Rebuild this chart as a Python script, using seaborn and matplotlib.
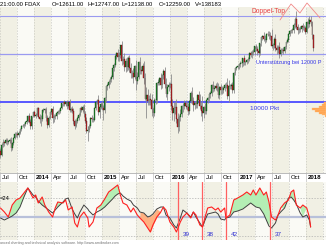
import numpy as np
import pandas as pd
import matplotlib
matplotlib.use("Agg")
import matplotlib.pyplot as plt
import matplotlib.dates as mdates
import seaborn as sns

# ---------------- data (weekly FDAX candles, Jul 2013 - Feb 2018) ----------------
first_open = 7960
closes = [
    # 2013
    7806, 8212, 8331, 8300, 8403, 8337, 8356, 8416, 8103, 8276, 8509, 8675, 8661, 8622,
    8725, 8869, 9001, 9009, 9079, 9168, 9225, 9405, 9172, 9006, 9400, 9589, 9435,
    # 2014
    9473, 9742, 9392, 9306, 9289, 9662, 9656, 9692, 9350, 9056, 9343, 9588, 9695, 9315,
    9409, 9401, 9556, 9581, 9630, 9769, 9943, 9987, 9913, 9987, 9815, 10009, 9666, 9720,
    9644, 9210, 9010, 9225, 9339, 9470, 9747, 9651, 9799, 9490, 9195, 8788, 8850, 8988,
    9326, 9291, 9252, 9732, 9980, 10087, 9594, 9787, 9923, 9764,
    # 2015
    9648, 10167, 10649, 10694, 10846, 10963, 11050, 11401, 11550, 11901, 12039, 11868,
    11967, 12375, 11689, 11811, 11454, 11709, 11447, 11815, 11413, 11197, 11197, 11040,
    11492, 10890, 11059, 11673, 11347, 11308, 11490, 10985, 10124, 10298, 10038, 10123,
    10104, 9688, 9553, 10096, 10104, 10795, 10850, 10988, 10708, 11119, 11293, 10752,
    10340, 10608, 10727, 10743,
    # 2016
    9849, 9545, 9764, 9798, 9286, 8967, 9388, 9513, 9824, 9831, 9950, 9851, 9794, 9622,
    10051, 10373, 10039, 9870, 9952, 9916, 10287, 10103, 9834, 9631, 9558, 9776, 9629,
    10066, 10147, 10337, 10367, 10713, 10544, 10588, 10684, 10573, 10276, 10627, 10511,
    10490, 10580, 10711, 10696, 10259, 10668, 10664, 10700, 10513, 11203, 11404, 11450,
    11481,
    # 2017
    11599, 11629, 11630, 11814, 11651, 11666, 11757, 11804, 12027, 11963, 12095, 12064,
    12313, 12225, 12109, 12049, 12438, 12717, 12770, 12638, 12602, 12823, 12815, 12753,
    12733, 12325, 12388, 12632, 12240, 12163, 12297, 12014, 12165, 12168, 12142, 12304,
    12519, 12592, 12828, 12956, 12992, 12991, 13217, 13478, 13127, 12994, 13060, 13058,
    13153, 13104, 13072, 12918,
    # 2018
    13320, 13245, 13434, 13340, 12785, 12259,
]
upper_wick = [
    120, 90, 110, 60, 80, 100, 70, 90, 140, 60, 50, 80, 90, 120, 60, 40, 50, 90, 60, 50,
    70, 40, 120, 110, 30, 40, 90,
    80, 50, 70, 110, 150, 40, 80, 70, 90, 120, 60, 50, 70, 120, 80, 90, 60, 70, 60, 40,
    30, 60, 90, 40, 110, 40, 100, 80, 120, 110, 100, 60, 80, 60, 40, 90, 70, 110, 130, 180,
    140, 90, 60, 120, 90, 50, 40, 30, 190, 90, 60, 130,
    100, 40, 60, 110, 80, 60, 70, 30, 60, 80, 60, 150, 110, 15, 170, 110, 210, 120, 170, 90,
    160, 220, 140, 200, 60, 260, 180, 50, 210, 170, 140, 200, 230, 320, 250, 160, 240, 220,
    110, 60, 160, 40, 110, 70, 200, 60, 90, 150, 240, 150, 120, 110,
    420, 280, 240, 190, 340, 260, 70, 190, 60, 110, 120, 130, 140, 180, 50, 90, 250, 160,
    90, 120, 40, 170, 230, 180, 639, 60, 170, 40, 80, 60, 80, 30, 180, 120, 90, 130, 200,
    60, 140, 140, 90, 80, 110, 310, 250, 90, 100, 120, 40, 60, 50, 40,
    40, 70, 80, 40, 160, 60, 50, 90, 40, 90, 80, 130, 40, 110, 110, 130, 30, 30, 40, 150,
    170, 60, 140, 140, 150, 300, 80, 60, 220, 150, 70, 220, 100, 100, 120, 40, 40, 60, 30,
    40, 50, 80, 60, 47, 300, 120, 80, 100, 70, 120, 90, 80,
    60, 200, 160, 162, 30, 40,
]
lower_wick = [
    150, 60, 90, 120, 70, 110, 80, 60, 130, 90, 60, 50, 100, 140, 80, 60, 70, 50, 90, 60,
    80, 70, 60, 150, 120, 40, 60,
    90, 70, 60, 200, 270, 60, 90, 100, 150, 130, 90, 60, 80, 180, 150, 100, 110, 60, 80, 70,
    60, 90, 100, 60, 120, 70, 80, 90, 120, 110, 120, 60, 90, 80, 60, 80, 70, 110, 90, 88,
    433, 100, 70, 110, 80, 60, 70, 80, 150, 280, 60, 90,
    380, 120, 150, 160, 130, 90, 110, 80, 100, 80, 90, 160, 150, 120, 160, 120, 150, 200,
    170, 110, 160, 200, 180, 240, 100, 380, 160, 120, 190, 140, 150, 240, 44, 786, 180, 170,
    220, 261, 228, 130, 190, 160, 100, 150, 180, 120, 150, 180, 140, 240, 130, 140,
    170, 310, 330, 280, 150, 268, 170, 180, 140, 220, 110, 160, 120, 170, 120, 110, 130, 240,
    160, 180, 150, 110, 140, 200, 344, 220, 110, 130, 90, 110, 150, 110, 130, 90, 100, 120,
    110, 140, 170, 150, 120, 140, 110, 150, 250, 110, 120, 140, 120, 90, 70, 60,
    100, 130, 150, 140, 110, 110, 80, 120, 90, 90, 110, 120, 110, 100, 140, 180, 110, 90,
    120, 100, 140, 90, 80, 130, 150, 70, 160, 130, 110, 150, 130, 160, 110, 110, 140, 110,
    90, 80, 100, 90, 80, 120, 110, 130, 100, 150, 140, 130, 160, 110, 110, 90,
    40, 150, 110, 180, 140, 121,
]

# oscillator panel (week index, red line, black line)
ind_week = [0, 3, 6, 9, 12, 15, 18, 21, 25, 27, 29, 32, 34, 37, 40, 42, 44, 48, 50, 52,
            55, 57, 59, 61, 64, 67, 68, 71, 74, 77, 80, 83, 86, 88, 90, 92, 94, 97, 100,
            102, 105, 107, 110, 113, 115, 117, 120, 123, 125, 127, 130, 133, 135, 138, 140,
            143, 146, 148, 150, 153, 155, 157, 159, 162, 165, 167, 169, 172, 173, 176, 179,
            182, 186, 189, 192, 194, 196, 199, 202, 204, 206, 208, 211, 213, 215, 218, 221,
            223, 225, 227, 230, 232, 235, 237, 238]
ind_red = [32, 28, 23, 35, 40, 42, 47, 52, 42, 45, 37, 43, 35, 28, 23, 32, 38, 37, 40, 30,
           33, 17, 13, 23, 28, 22, 13, 18, 32, 35, 41, 48, 51, 53, 55, 45, 37, 35, 28, 32,
           25, 22, 18, 12, 8, 15, 23, 28, 33, 30, 18, 13, 8, 18, 23, 27, 22, 28, 25, 15,
           13, 23, 32, 33, 30, 32, 28, 32, 22, 25, 40, 42, 45, 48, 45, 50, 45, 52, 45, 48,
           38, 23, 20, 25, 32, 37, 40, 48, 50, 35, 32, 35, 32, 23, 13]
ind_black = [22, 20, 22, 24, 27, 33, 43, 52, 45, 43, 39, 35, 33, 30, 27, 30, 33, 38, 41, 42,
             31, 26, 22, 28, 35, 31, 29, 25, 28, 30, 33, 37, 41, 44, 46, 47, 44, 41, 39, 35,
             32, 28, 27, 23, 24, 26, 31, 33, 33, 25, 22, 15, 12, 22, 30, 27, 23, 28, 23, 17,
             13, 20, 26, 27, 28, 26, 21, 20, 22, 23, 28, 29, 31, 34, 37, 35, 33, 32, 26, 20,
             14, 12, 17, 25, 28, 32, 42, 43, 40, 36, 27, 23, 25, 20, 13]
ind_ref_level = 23
oversold_zone = (107, 120)   # week range of the orange (oversold) fill
cycle_weeks = [136, 155, 173, 207]
cycle_labels = ["39", "38", "42", "37"]

support_levels = [13583, 12000, 10000]
header = ["21:00.00 FDAX", "O=12611.00", "H=12747.00", "L=12138.00", "C=12259.00", "V=138183"]
profile_prices = [9960, 9880, 9800, 9720, 9640, 9560, 9480, 9400]
profile_days = [10, 22, 40, 75, 60, 38, 20, 8]
doppel_days = [1504, 1563, 1611, 1649, 1719]
doppel_prices = [13417, 14083, 13708, 14125, 13500]

# ---------------- figure ----------------
sns.set_theme(style="white")
plt.rcParams["font.family"] = ["Liberation Sans", "DejaVu Sans"]

W, H = 326, 245
fig = plt.figure(figsize=(W / 100, H / 100), dpi=100)
fig.patch.set_facecolor("white")


def fax(x0, y0, x1, y1):
    return fig.add_axes([x0 / W, 1 - y1 / H, (x1 - x0) / W, (y1 - y0) / H])


ax = fax(0, 7, 326, 173)
axd = fax(0, 173, 326, 182)
axb = fax(0, 182, 326, 240)

start = pd.Timestamp("2013-07-01")
weeks = pd.date_range(start, periods=len(closes), freq="W-MON")
xw = mdates.date2num(weeks) + 2.5
close = np.array(closes, float)
open_ = np.concatenate([[first_open], close[:-1]])
high = np.maximum(open_, close) + np.array(upper_wick)
low = np.minimum(open_, close) - np.array(lower_wick)
df = pd.DataFrame({"x": xw, "open": open_, "close": close, "high": high, "low": low})

x0 = mdates.date2num(start)
x1 = x0 + 1751
quarters = pd.date_range("2013-07-01", "2018-04-01", freq="QS")
qx = mdates.date2num(quarters)

for a in (ax, axb):
    a.set_xlim(x0, x1)
    for i, q in enumerate(qx):
        a.axvspan(q, q + 91.3, color="#f1f0e4" if i % 2 == 0 else "#fafaf5", lw=0, zorder=0)
        a.axvline(q, color="#c8c8c0", lw=0.5, ls=(0, (2, 2)), zorder=0.5)
    for s in a.spines.values():
        s.set_visible(False)
    a.set_xticks([])
    a.set_yticks([])

ax.set_ylim(7042, 13958)

# support lines
for lvl, col, lw in zip(support_levels, ["#9a9af0", "#9a9af0", "#4c4cff"], [0.8, 0.9, 1.3]):
    ax.axhline(lvl, color=col, lw=lw, zorder=1)

# candles
ax.vlines(df.x, df.low, df.high, color="#8c8c8c", lw=0.6, zorder=2)
up = df.close >= df.open
ax.bar(df.x[up], (df.close - df.open)[up], bottom=df.open[up], width=4.0,
       color="#1f8a2a", edgecolor="#0d3d10", linewidth=0.25, zorder=3)
ax.bar(df.x[~up], (df.close - df.open)[~up], bottom=df.open[~up], width=4.0,
       color="#c8262a", edgecolor="#4a0c0c", linewidth=0.25, zorder=3)

# annotations
ax.text(x0 + 256 * 5.371, 11660, "Unterstützung bei 12000 P", color="#3838e8",
        fontsize=4.0, va="center", ha="left")
ax.text(x0 + 250 * 5.371, 9750, "10000 Pkt", color="#3838e8", fontsize=4.6,
        va="center", ha="left")
ax.text(x0 + 252 * 5.371, 13750, "Doppel-Top", color="#e84040", fontsize=4.8,
        va="center", ha="left")
ax.plot(x0 + np.array(doppel_days), doppel_prices, color="#f08888", lw=0.6,
        clip_on=False, zorder=4)
ax.barh(profile_prices, [-d for d in profile_days], left=x1, height=80,
        color="#ffa048", edgecolor="#ffc080", linewidth=0.3, zorder=2)

# header
for txt, px in zip(header, [0, 52, 87, 122, 159, 195]):
    fig.text(px / W, 1 - 4 / H, txt, fontsize=4.2, va="center", ha="left", color="black")

# date band
axd.set_xlim(x0, x1)
axd.set_ylim(0, 1)
axd.set_facecolor("white")
axd.set_xticks([])
axd.set_yticks([])
for s in axd.spines.values():
    s.set_color("#a0a0a0")
    s.set_linewidth(0.5)
axd.spines["left"].set_visible(False)
axd.spines["right"].set_visible(False)
for q in quarters[quarters <= pd.Timestamp("2018-01-01")]:
    qn = mdates.date2num(q)
    axd.vlines(qn, 0, 1, color="#b0b0b0", lw=0.4)
    if q.month == 1:
        lab, fw = str(q.year), "bold"
    else:
        lab, fw = q.strftime("%b"), "normal"
    axd.text(qn + 9, 0.45, lab, fontsize=4.3, fontweight=fw, va="center", ha="left",
             color="black")

# oscillator
axb.set_ylim(0, 58)
ind = pd.DataFrame({"week": ind_week, "x": xw[ind_week], "red": ind_red, "black": ind_black})
axb.axhline(ind_ref_level, color="#b8c0da", lw=1.6, zorder=1)
for lvl in (42, 4):
    axb.axhline(lvl, color="#b0b0b0", lw=0.5, ls=(0, (2, 2)), zorder=1)
r = ind.red.values
b = ind.black.values
wk = ind.week.values
axb.fill_between(ind.x, r, b, where=(r > b) & (r >= 35), interpolate=True,
                 color="#b4eeb4", lw=0, zorder=1.5)
axb.fill_between(ind.x, r, b, where=(r < b) & (wk >= oversold_zone[0]) & (wk <= oversold_zone[1]),
                 interpolate=True, color="#ffb080", lw=0, zorder=1.5)
sns.lineplot(data=ind, x="x", y="black", ax=axb, color="#404040", lw=0.7, zorder=2)
sns.lineplot(data=ind, x="x", y="red", ax=axb, color="#ff2020", lw=0.8, zorder=3)
for cw, lab in zip(cycle_weeks, cycle_labels):
    axb.axvline(xw[cw], color="#ff6060", lw=0.9, zorder=2.5)
    axb.text(xw[cw] + 25, 6, lab, color="#3030d0", fontsize=4.6, ha="left", va="center")
axb.set_xlabel("")
axb.set_ylabel("")
axb.set_xticks([])
axb.set_yticks([])
axb.text(x0 + 1, 42, "=24", fontsize=4.2, va="center", ha="left", color="black")

fig.text(0, 1 - 242.5 / H, "anced charting and technical analysis software. http://www.amibroker.com",
         fontsize=2.6, color="#707070", va="center", ha="left")

fig.savefig("out.png", dpi=100)
